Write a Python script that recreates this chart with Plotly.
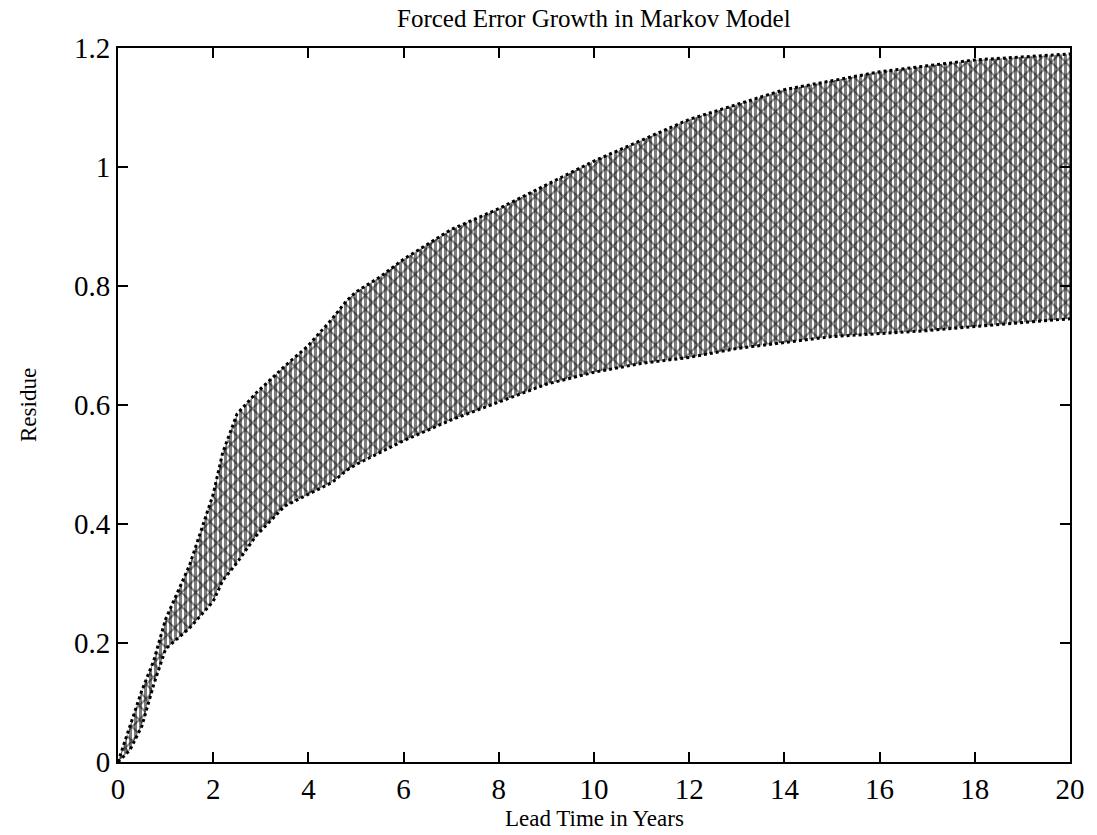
import plotly.graph_objects as go

# Lead time (years) at which the band edges were read
lead_time = [0, 0.25, 0.5, 0.75, 1, 1.5, 2, 2.2, 2.5, 2.9, 3.5, 4, 4.5, 4.8,
             5, 5.5, 6, 7, 8, 8.5, 9, 10, 11, 12, 13, 14, 15, 16, 17, 18, 19, 20]
# Upper edge of the ensemble band (residue)
upper_edge = [0, 0.06, 0.12, 0.17, 0.24, 0.33, 0.45, 0.52, 0.585, 0.62, 0.665, 0.70, 0.745, 0.775,
              0.79, 0.815, 0.845, 0.895, 0.93, 0.95, 0.97, 1.01, 1.045, 1.08, 1.105, 1.13, 1.145, 1.16, 1.17, 1.18, 1.185, 1.19]
# Lower edge of the ensemble band (residue)
lower_edge = [0, 0.02, 0.06, 0.13, 0.19, 0.225, 0.27, 0.305, 0.335, 0.38, 0.43, 0.45, 0.47, 0.49,
              0.50, 0.52, 0.54, 0.575, 0.605, 0.62, 0.635, 0.655, 0.67, 0.68, 0.695, 0.705, 0.715, 0.72, 0.725, 0.732, 0.738, 0.745]

x_ticks = [0, 2, 4, 6, 8, 10, 12, 14, 16, 18, 20]
y_ticks = [0, 0.2, 0.4, 0.6, 0.8, 1.0, 1.2]
y_tick_text = ["0", "0.2", "0.4", "0.6", "0.8", "1", "1.2"]

FONT = "Liberation Serif, Times New Roman, serif"

fig = go.Figure()
# band with dense vertical hatching
fig.add_trace(go.Scatter(x=lead_time, y=lower_edge, mode="lines",
                         line=dict(color="black", width=3, dash="dot"), showlegend=False))
fig.add_trace(go.Scatter(x=lead_time, y=upper_edge, mode="lines", fill="tonexty",
                         fillcolor="white",
                         fillpattern=dict(shape="|", fgcolor="black", bgcolor="white",
                                          size=5, solidity=0.6),
                         line=dict(color="black", width=3, dash="dot"), showlegend=False))
# overlay crossing texture
fig.add_trace(go.Scatter(x=lead_time, y=lower_edge, mode="lines",
                         line=dict(color="black", width=0), showlegend=False))
fig.add_trace(go.Scatter(x=lead_time, y=upper_edge, mode="lines", fill="tonexty",
                         fillcolor="rgba(0,0,0,0)",
                         fillpattern=dict(shape="x", fgcolor="black", bgcolor="rgba(0,0,0,0)",
                                          size=10, solidity=0.35),
                         line=dict(color="black", width=0), showlegend=False))

fig.update_layout(
    width=1097, height=835,
    margin=dict(l=118, r=22, t=48, b=73),
    paper_bgcolor="white", plot_bgcolor="white",
    font=dict(family=FONT, color="black", size=24),
    xaxis=dict(range=[0, 20], tickvals=x_ticks, ticks="inside", ticklen=10, tickwidth=2,
               tickcolor="black", showline=True, linecolor="black", linewidth=2,
               mirror="ticks", showgrid=False, zeroline=False,
               tickfont=dict(size=29, family=FONT)),
    yaxis=dict(range=[0, 1.2], tickvals=y_ticks, ticktext=y_tick_text, ticks="inside",
               ticklen=10, tickwidth=2, tickcolor="black", showline=True, linecolor="black",
               linewidth=2, mirror="ticks", showgrid=False, zeroline=False,
               tickfont=dict(size=29, family=FONT)),
    annotations=[
        dict(text="Forced Error Growth in Markov Model", x=0.5, y=1, xref="paper", yref="paper",
             yanchor="middle", xanchor="center", yshift=30, showarrow=False,
             font=dict(size=25, family=FONT)),
        dict(text="Lead Time in Years", x=0.5, y=0, xref="paper", yref="paper",
             yanchor="middle", xanchor="center", yshift=-56, showarrow=False,
             font=dict(size=23, family=FONT)),
        dict(text="Residue", x=0, y=0.5, xref="paper", yref="paper", xshift=-90,
             xanchor="center", yanchor="middle",
             textangle=-90, showarrow=False, font=dict(size=23, family=FONT)),
    ],
)

fig.write_html("out.html")
